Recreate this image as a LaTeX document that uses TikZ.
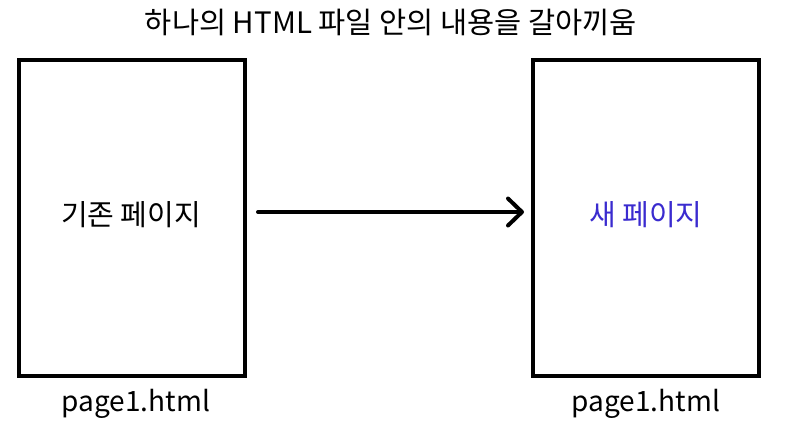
\documentclass[tikz,border=0pt]{standalone}
\usepackage{fontspec}
\setmainfont{Noto Sans CJK KR}
\usetikzlibrary{arrows.meta}
\definecolor{newblue}{HTML}{3A2BCF}
\begin{document}
\begin{tikzpicture}[x=1pt,y=-1pt,
  page/.style={draw=black,line width=4pt,minimum width=226pt,minimum height=316pt,inner sep=0pt},
  lbl/.style={font=\fontsize{29}{34}\selectfont,inner sep=0pt},
  filelbl/.style={font=\fontsize{28}{34}\selectfont,inner sep=0pt},
  conn/.style={line width=4pt,line cap=round,-{Straight Barb[length=14pt,width=27pt,line width=4pt,line cap=round,round]}}]
\useasboundingbox (0,0) rectangle (798,432);
\node[font=\fontsize{29.5}{34}\selectfont,inner sep=0pt] (title) at (391,22) {하나의 HTML 파일 안의 내용을 갈아끼움};
\node[page] (old) at (131.5,218) {};
\node[page] (new) at (646,218) {};
\node[lbl] (oldt) at (131,215) {기존 페이지};
\node[lbl,text=newblue] (newt) at (646,215) {새 페이지};
\node[filelbl] (c1) at (136,404) {page1.html};
\node[filelbl] (c2) at (646,404) {page1.html};
\coordinate (a) at (258,212);
\coordinate (b) at (524,212);
\draw[conn] (a) -- (b);
\end{tikzpicture}
\end{document}
